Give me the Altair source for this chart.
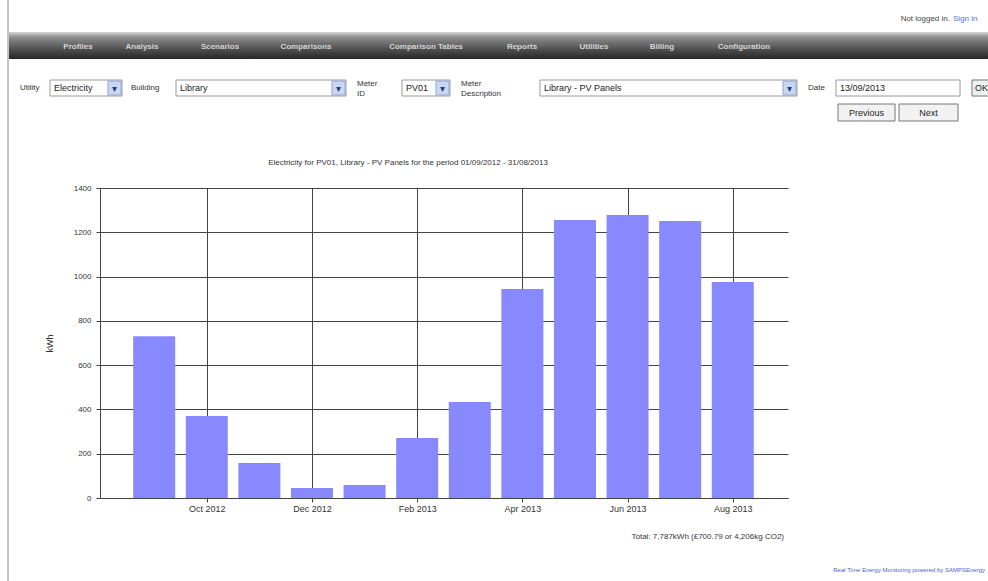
import altair as alt
import pandas as pd

# Monthly generation for meter PV01 (Library - PV Panels)
months = ["Sep 2012", "Oct 2012", "Nov 2012", "Dec 2012", "Jan 2013", "Feb 2013",
          "Mar 2013", "Apr 2013", "May 2013", "Jun 2013", "Jul 2013", "Aug 2013"]
kwh = [730, 370, 158, 45, 59, 271, 434, 944, 1256, 1278, 1251, 975]

y_ticks = [0, 200, 400, 600, 800, 1000, 1200, 1400]
x_tick_index = [1, 3, 5, 7, 9, 11]

nav_items = ["Profiles", "Analysis", "Scenarios", "Comparisons", "Comparison Tables",
             "Reports", "Utilities", "Billing", "Configuration"]

chart_title = "Electricity for PV01, Library - PV Panels for the period 01/09/2012 - 31/08/2013"
total_text = "Total: 7,787kWh (£700.79 or 4,206kg CO2)"

FONT = "Liberation Sans"
TXT = "#333333"

# plot area placement inside the 988x581 page
OX, OY = 100, 188
PW, PH = 688, 310

df = pd.DataFrame({"idx": list(range(len(months))), "month": months, "kwh": kwh})
one = pd.DataFrame({"k": [0]})

label_lookup = "[" + ",".join("'" + m + "'" for m in months) + "][datum.value]"

bars = alt.Chart(df).mark_bar(size=42, color="#8888ff").encode(
    x=alt.X("idx:Q",
            scale=alt.Scale(domain=[-1.03, 12.05], nice=False, zero=False, padding=0),
            axis=alt.Axis(values=x_tick_index, labelExpr=label_lookup, title=None,
                          grid=True, gridColor="#444444", gridWidth=1,
                          domainColor="#444444", tickColor="#444444", tickSize=4,
                          labelPadding=2, labelFontSize=9, labelColor=TXT, labelFont=FONT)),
    y=alt.Y("kwh:Q",
            scale=alt.Scale(domain=[0, 1400], nice=False, padding=0),
            axis=alt.Axis(values=y_ticks, format="d", title="kWh", grid=True,
                          gridColor="#444444", gridWidth=1, domainColor="#444444",
                          tickColor="#444444", tickSize=4, labelPadding=5,
                          labelFontSize=8, labelColor=TXT, labelFont=FONT,
                          titleFont=FONT, titleFontSize=9, titleFontWeight="normal",
                          titleColor=TXT, titleX=-46, titleY=155, titleAngle=-90)),
    tooltip=["month", "kwh"],
)


def rect(x0, y0, x1, y1, fill, stroke=None, sw=1):
    kw = {"fill": fill}
    if stroke:
        kw.update(stroke=stroke, strokeWidth=sw)
    return alt.Chart(one).mark_rect(**kw).encode(
        x=alt.value(x0 - OX), x2=alt.value(x1 - OX),
        y=alt.value(y0 - OY), y2=alt.value(y1 - OY))


def text(x, y, s, size=9, color=TXT, align="left", weight="normal", baseline="middle"):
    return alt.Chart(one).mark_text(
        text=s, fontSize=size, color=color, align=align, baseline=baseline,
        font=FONT, fontWeight=weight, lineHeight=size + 2,
    ).encode(x=alt.value(x - OX), y=alt.value(y - OY))


def select(x0, x1, y0, y1, label):
    return [
        rect(x0, y0, x1, y1, "#ffffff", "#9a9a9a"),
        rect(x1 - 14, y0 + 1, x1 - 1, y1 - 1, "#c9d7f2", "#8fa6d0"),
        text(x1 - 7.5, (y0 + y1) / 2 + 1, "▾", size=10, color="#2a3f7a", align="center"),
        text(x0 + 4, (y0 + y1) / 2, label, size=9, color="#222222"),
    ]


layers = []

# page border and header
layers.append(alt.Chart(one).mark_rule(color="#8c8c8c", strokeWidth=1).encode(
    x=alt.value(8 - OX), y=alt.value(0 - OY), y2=alt.value(581 - OY)))
layers.append(text(950, 19, "Not logged in.", size=8, color="#444444", align="right"))
layers.append(text(953, 19, "Sign in", size=8, color="#5b6fd6"))

nav_grad = alt.Gradient(
    gradient="linear", x1=0, x2=0, y1=0, y2=1,
    stops=[alt.GradientStop(color="#d6d6d6", offset=0),
           alt.GradientStop(color="#8c8c8c", offset=0.2),
           alt.GradientStop(color="#555555", offset=0.6),
           alt.GradientStop(color="#262626", offset=1)])
layers.append(alt.Chart(one).mark_rect(color=nav_grad).encode(
    x=alt.value(9 - OX), x2=alt.value(988 - OX),
    y=alt.value(32 - OY), y2=alt.value(59 - OY)))
nav_x = [78, 142, 220, 306, 426, 522, 594, 662, 744]
for nx, item in zip(nav_x, nav_items):
    layers.append(text(nx, 47, item, size=8, color="#d4d4d4", align="center", weight="bold"))

# selection form
FY0, FY1 = 80, 96
layers.append(text(20, 88, "Utility", size=8))
layers += select(50, 122, FY0, FY1, "Electricity")
layers.append(text(131, 88, "Building", size=8))
layers += select(176, 346, FY0, FY1, "Library")
layers.append(text(357, 84, ["Meter", "ID"], size=8))
layers += select(402, 450, FY0, FY1, "PV01")
layers.append(text(461, 84, ["Meter", "Description"], size=8))
layers += select(540, 797, FY0, FY1, "Library - PV Panels")
layers.append(text(808, 88, "Date", size=8))
layers.append(rect(836, FY0, 960, FY1, "#ffffff", "#9a9a9a"))
layers.append(text(840, 88, "13/09/2013", size=9, color="#222222"))
layers.append(rect(972, FY0, 990, FY1, "#f0f0f0", "#777777"))
layers.append(text(975, 88, "OK", size=9, color="#222222"))
layers.append(rect(838, 104, 895, 121, "#f2f2f2", "#777777"))
layers.append(text(866.5, 112.5, "Previous", size=9, color="#222222", align="center"))
layers.append(rect(899, 104, 958, 121, "#f2f2f2", "#777777"))
layers.append(text(928.5, 112.5, "Next", size=9, color="#222222", align="center"))

# chart captions
layers.append(text(OX + 308, 163, chart_title, size=8, align="center"))
layers.append(text(OX + PW - 4, 537, total_text, size=8, align="right"))
layers.append(text(985, 570, "Real Time Energy Monitoring powered by SAMPSEnergy",
                   size=6, color="#4a5fc8", align="right"))

chart = alt.layer(bars, *layers).properties(
    width=PW, height=PH,
    autosize=alt.AutoSizeParams(type="none"),
    padding={"left": OX, "top": OY, "right": 988 - OX - PW, "bottom": 581 - OY - PH},
    background="#ffffff",
).configure_view(stroke=None)

chart.save("out.html", embed_options={"renderer": "svg", "actions": False})
